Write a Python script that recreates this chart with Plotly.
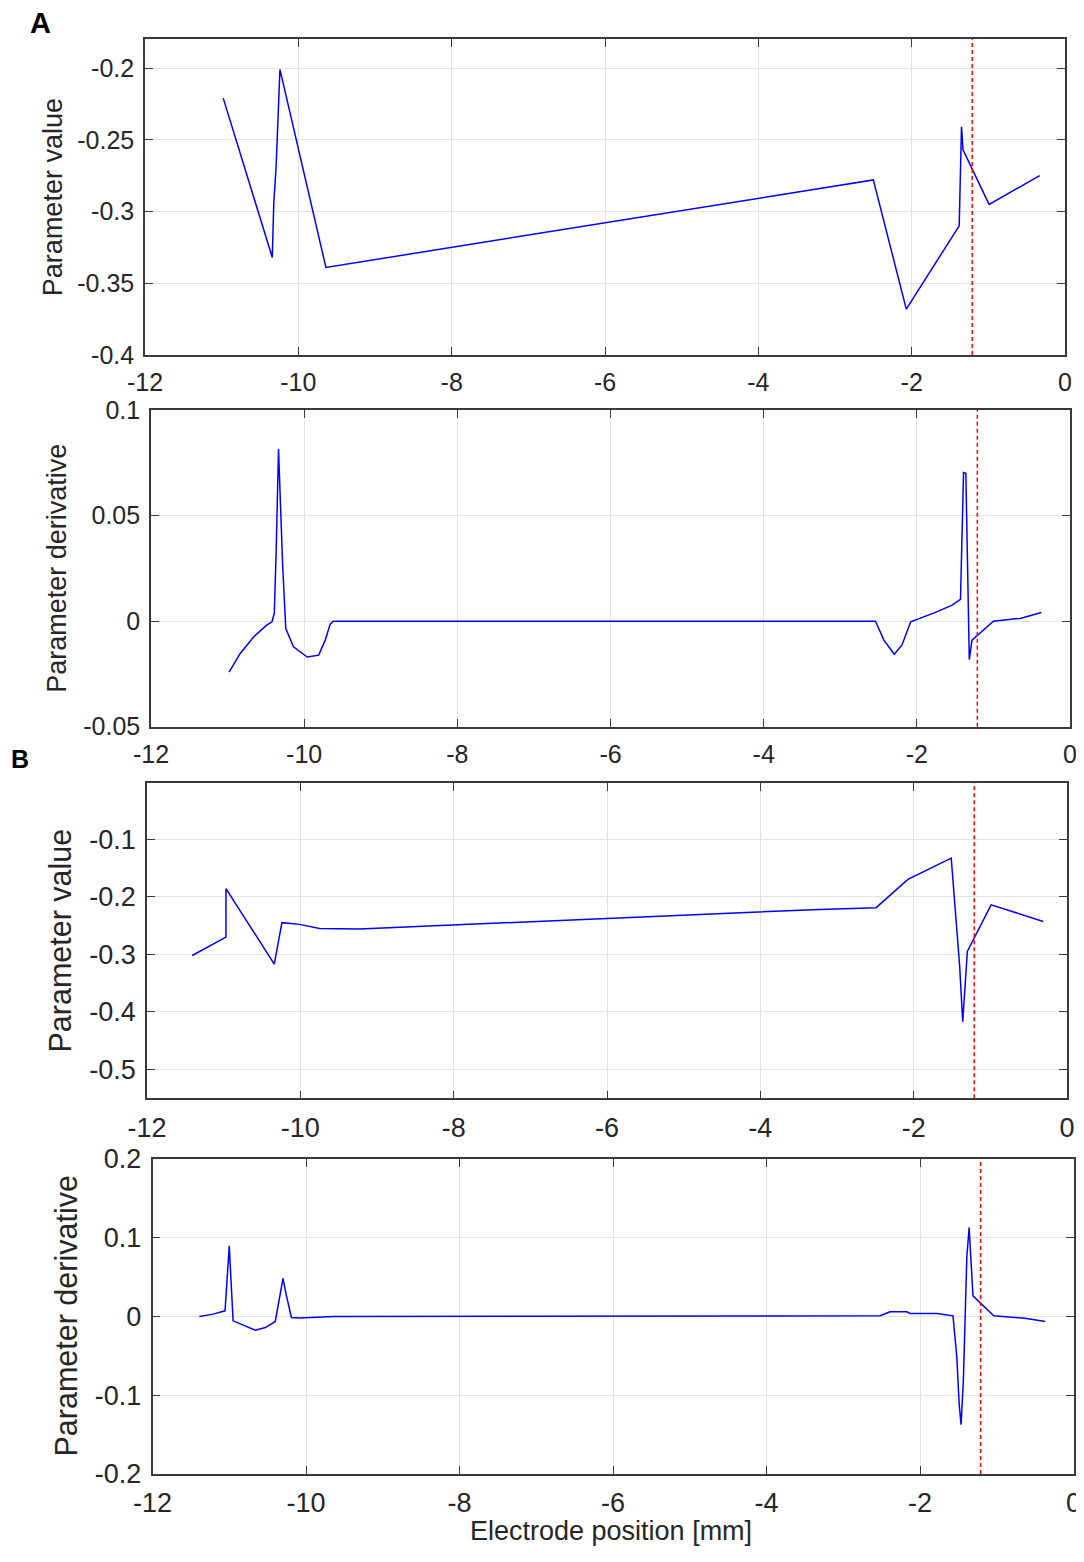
import plotly.graph_objects as go

# ---------------- data ----------------
a_val_x = [-10.98, -10.34, -10.32, -10.29, -10.24, -9.64, -2.50, -2.07, -1.38, -1.35, -1.33, -0.99, -0.33]
a_val_y = [-0.221, -0.332, -0.294, -0.269, -0.201, -0.339, -0.278, -0.368, -0.310, -0.241, -0.257, -0.295, -0.275]

a_der_x = [-10.98, -10.835, -10.66, -10.49, -10.42, -10.39, -10.365, -10.335, -10.28, -10.24, -10.14,
           -9.96, -9.81, -9.725, -9.66, -9.62, -2.54, -2.43, -2.295, -2.195, -2.08, -1.955, -1.74,
           -1.54, -1.43, -1.39, -1.36, -1.315, -1.28, -1.00, -0.65, -0.375]
a_der_y = [-0.0241, -0.0153, -0.0075, -0.0019, -0.0003, 0.0037, 0.0337, 0.0815, 0.0258, -0.0035, -0.0122,
           -0.0170, -0.0161, -0.0090, -0.0014, 0.0, 0.0, -0.0090, -0.0157, -0.0114, -0.0003, 0.0013, 0.0044,
           0.0076, 0.0103, 0.0704, 0.0700, -0.0182, -0.0090, 0.0, 0.0013, 0.0041]

b_val_x = [-11.41, -10.97, -10.97, -10.34, -10.24, -10.01, -9.75, -9.23, -3.23, -2.49, -2.075, -1.51,
           -1.40, -1.36, -1.30, -0.99, -0.31]
b_val_y = [-0.302, -0.270, -0.186, -0.317, -0.245, -0.248, -0.255, -0.256, -0.222, -0.219, -0.170, -0.133,
           -0.321, -0.417, -0.295, -0.214, -0.243]

b_der_x = [-11.39, -11.21, -11.055, -11.0, -10.95, -10.82, -10.66, -10.53, -10.40, -10.30, -10.26, -10.19,
           -10.08, -9.64, -2.52, -2.39, -2.17, -2.13, -1.78, -1.57, -1.52, -1.49, -1.465, -1.435, -1.39,
           -1.36, -1.31, -1.04, -0.61, -0.37]
b_der_y = [0.0, 0.003, 0.0072, 0.0898, -0.0055, -0.011, -0.0173, -0.014, -0.0063, 0.0483, 0.0284, -0.0013,
           -0.002, 0.0, 0.0009, 0.006, 0.006, 0.0038, 0.0038, 0.0009, -0.052, -0.111, -0.1375, -0.0817, 0.075,
           0.113, 0.0263, 0.0009, -0.0025, -0.0063]

marker_x = -1.21  # red dashed reference position [mm]

x_ticks = [-12, -10, -8, -6, -4, -2, 0]
x_ticktext = ["-12", "-10", "-8", "-6", "-4", "-2", "0"]
y1_ticks = [-0.4, -0.35, -0.3, -0.25, -0.2]
y1_text = ["-0.4", "-0.35", "-0.3", "-0.25", "-0.2"]
y2_ticks = [-0.05, 0, 0.05, 0.1]
y2_text = ["-0.05", "0", "0.05", "0.1"]
y3_ticks = [-0.5, -0.4, -0.3, -0.2, -0.1]
y3_text = ["-0.5", "-0.4", "-0.3", "-0.2", "-0.1"]
y4_ticks = [-0.2, -0.1, 0, 0.1, 0.2]
y4_text = ["-0.2", "-0.1", "0", "0.1", "0.2"]

y_titles = ["Parameter value", "Parameter derivative", "Parameter value", "Parameter derivative"]
x_title = "Electrode position [mm]"

# ---------------- layout geometry (page pixels) ----------------
OFF = 8                      # default body margin of the html page
W, H = 1084 - OFF, 1540


def px(x):
    return (x - OFF) / W


def py(y):
    return 1 - (y - OFF) / H


panels = [
    dict(l=145, r=1065, t=39.3, b=355, yr=[-0.4, -0.18], yt=y1_ticks, ytt=y1_text, tf=25, ttf=27, tx=53),
    dict(l=151, r=1070, t=410, b=726.7, yr=[-0.05, 0.1], yt=y2_ticks, ytt=y2_text, tf=25, ttf=27, tx=57.5),
    dict(l=147, r=1067, t=782.7, b=1098.3, yr=[-0.55, -0.002], yt=y3_ticks, ytt=y3_text, tf=27, ttf=30.5, tx=59),
    dict(l=152.5, r=1073.5, t=1159, b=1474, yr=[-0.2, 0.2], yt=y4_ticks, ytt=y4_text, tf=27, ttf=30.5, tx=65),
]
series = [(a_val_x, a_val_y), (a_der_x, a_der_y), (b_val_x, b_val_y), (b_der_x, b_der_y)]

FONT = "Liberation Sans, Arial, sans-serif"
TXT = "#262626"
AX = "#3a3a3a"
GRID = "#e3e3e3"

fig = go.Figure()
layout = dict(
    width=W, height=H, margin=dict(l=0, r=0, t=0, b=0, pad=0, autoexpand=False),
    paper_bgcolor="white", plot_bgcolor="white", showlegend=False,
    font=dict(family=FONT, color=TXT),
)
shapes = []
annotations = []

for i, (p, (sx, sy)) in enumerate(zip(panels, series)):
    n = "" if i == 0 else str(i + 1)
    xa, ya = "x" + n, "y" + n
    fig.add_trace(go.Scatter(x=sx, y=sy, mode="lines", xaxis=xa, yaxis=ya,
                             line=dict(color="#0000ff", width=1.5), hoverinfo="skip"))
    common = dict(showline=True, linecolor=AX, linewidth=1.6, mirror="ticks",
                  ticks="inside", ticklen=8, tickwidth=1.2, tickcolor=AX,
                  showgrid=True, gridcolor=GRID, gridwidth=1, zeroline=False,
                  automargin=False, ticklabeloverflow="allow",
                  tickfont=dict(family=FONT, size=p["tf"], color=TXT))
    layout["xaxis" + n] = dict(common, domain=[px(p["l"]), px(p["r"])], anchor=ya,
                               range=[-12, 0], tickvals=x_ticks, ticktext=x_ticktext,
                               ticklabelstandoff=4)
    layout["yaxis" + n] = dict(common, domain=[py(p["b"]), py(p["t"])], anchor=xa,
                               range=p["yr"], tickvals=p["yt"], ticktext=p["ytt"],
                               ticklabelstandoff=4)
    shapes.append(dict(type="line", xref=xa, yref=ya + " domain", x0=marker_x, x1=marker_x,
                       y0=0, y1=1, line=dict(color="#ff0000", width=1.5, dash="4px,3px")))
    annotations.append(dict(text=y_titles[i], textangle=-90, xref="paper", yref="paper",
                            x=px(p["tx"]), y=py((p["t"] + p["b"]) / 2),
                            xanchor="center", yanchor="middle", showarrow=False,
                            font=dict(family=FONT, size=p["ttf"], color=TXT)))

annotations.append(dict(text=x_title, xref="paper", yref="paper", x=px(611), y=py(1531),
                        xanchor="center", yanchor="middle", showarrow=False,
                        font=dict(family=FONT, size=27, color=TXT)))
annotations.append(dict(text="<b>A</b>", xref="paper", yref="paper", x=px(40), y=py(23),
                        xanchor="center", yanchor="middle", showarrow=False,
                        font=dict(family=FONT, size=29, color="black")))
annotations.append(dict(text="<b>B</b>", xref="paper", yref="paper", x=px(20), y=py(759),
                        xanchor="center", yanchor="middle", showarrow=False,
                        font=dict(family=FONT, size=25, color="black")))

layout["shapes"] = shapes
layout["annotations"] = annotations
fig.update_layout(**layout)
fig.write_html("out.html")
